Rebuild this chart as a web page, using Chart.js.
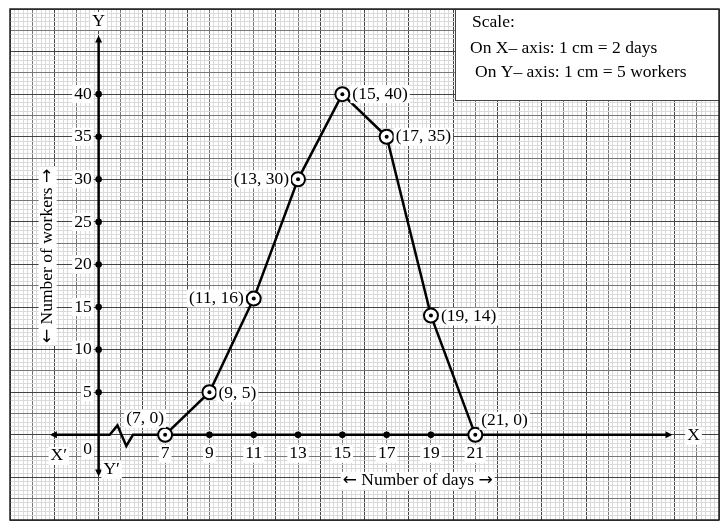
<!DOCTYPE html>
<html>
<head>
<meta charset="utf-8">
<script src="https://cdn.jsdelivr.net/npm/chart.js@4"></script>
<style>
  body { margin: 0; background: #fff; }
  #wrap { width: 728px; height: 529px; }
</style>
</head>
<body>
<div id="wrap"><canvas id="graph"></canvas></div>
<script>
const days = [7, 9, 11, 13, 15, 17, 19, 21];
const workers = [0, 5, 16, 30, 40, 35, 14, 0];
const xTickLabels = [7, 9, 11, 13, 15, 17, 19, 21];
const yTickLabels = [5, 10, 15, 20, 25, 30, 35, 40];
const scaleLines = ['Scale:', 'On X\u2013 axis: 1 cm = 2 days', 'On Y\u2013 axis: 1 cm = 5 workers'];

const points = days.map((d, i) => ({ x: d, y: workers[i] }));
const FONT = '17.5px "Liberation Serif"';
const ARROW_FONT = '17px "DejaVu Sans"';

// where the Y axis crosses the X axis (graph paper position)
const AXIS_X = 4;

function isMult(v, step) {
    const q = v / step;
    return Math.abs(q - Math.round(q)) < 1e-6;
}

function textBox(ctx, txt, x, y, align) {
    ctx.textAlign = align;
    const w = ctx.measureText(txt).width;
    let left = x;
    if (align === 'center') left = x - w / 2;
    if (align === 'right') left = x - w;
    ctx.fillStyle = '#fff';
    ctx.fillRect(left - 2, y - 9, w + 4, 18);
    ctx.fillStyle = '#000';
    ctx.fillText(txt, x, y);
}

// "← title →" centred at (x, y), arrows in a font with bigger arrow glyphs
function arrowTitle(ctx, txt, x, y) {
    ctx.font = ARROW_FONT;
    const wa = ctx.measureText('\u2190').width;
    ctx.font = FONT;
    const mid = ' ' + txt + ' ';
    const wm = ctx.measureText(mid).width;
    const total = wa * 2 + wm;
    let left = x - total / 2;
    ctx.fillStyle = '#fff';
    ctx.fillRect(left - 2, y - 9, total + 4, 18);
    ctx.fillStyle = '#000';
    ctx.textAlign = 'left';
    ctx.font = ARROW_FONT;
    ctx.fillText('\u2190', left, y);
    ctx.font = FONT;
    ctx.fillText(mid, left + wa, y);
    ctx.font = ARROW_FONT;
    ctx.fillText('\u2192', left + wa + wm, y);
    ctx.font = FONT;
}

function arrow(ctx, x, y, dir) {
    const s = 7;
    ctx.beginPath();
    if (dir === 'right') { ctx.moveTo(x, y); ctx.lineTo(x - s, y - 3.5); ctx.lineTo(x - s, y + 3.5); }
    if (dir === 'left') { ctx.moveTo(x, y); ctx.lineTo(x + s, y - 3.5); ctx.lineTo(x + s, y + 3.5); }
    if (dir === 'up') { ctx.moveTo(x, y); ctx.lineTo(x - 3.5, y + s); ctx.lineTo(x + 3.5, y + s); }
    if (dir === 'down') { ctx.moveTo(x, y); ctx.lineTo(x - 3.5, y - s); ctx.lineTo(x + 3.5, y - s); }
    ctx.closePath();
    ctx.fill();
}

const axesPlugin = {
    id: 'axes',
    beforeDatasetsDraw(chart) {
        const ctx = chart.ctx;
        const xs = chart.scales.x, ys = chart.scales.y;
        const X = v => xs.getPixelForValue(v);
        const Y = v => ys.getPixelForValue(v);
        const a = chart.chartArea;
        ctx.save();

        // scale box
        const bx = 455, by = a.top, bh = 91;
        ctx.fillStyle = '#fff';
        ctx.fillRect(bx, by, a.right - bx, bh);
        ctx.strokeStyle = '#444';
        ctx.lineWidth = 1;
        ctx.strokeRect(bx + 0.5, by + 0.5, a.right - bx, bh);
        ctx.fillStyle = '#000';
        ctx.font = FONT;
        ctx.textBaseline = 'middle';
        ctx.textAlign = 'left';
        ctx.fillText(scaleLines[0], 472, 22);
        ctx.fillText(scaleLines[1], 470, 48);
        ctx.fillText(scaleLines[2], 475, 72);

        // frame
        ctx.strokeStyle = '#222';
        ctx.lineWidth = 1.5;
        ctx.strokeRect(a.left, a.top, a.right - a.left, a.bottom - a.top);

        // x axis with break
        const y0 = Y(0);
        ctx.strokeStyle = '#000';
        ctx.fillStyle = '#000';
        ctx.lineWidth = 2.5;
        ctx.beginPath();
        ctx.moveTo(X(1.9), y0);
        ctx.lineTo(X(4.5), y0);
        ctx.lineTo(X(4.85), Y(1.1));
        ctx.lineTo(X(5.25), Y(-1.3));
        ctx.lineTo(X(5.55), y0);
        ctx.lineTo(X(29.7), y0);
        ctx.stroke();
        arrow(ctx, X(1.8), y0, 'left');
        arrow(ctx, X(29.9), y0, 'right');

        // y axis
        const x0 = X(AXIS_X);
        ctx.beginPath();
        ctx.moveTo(x0, Y(-4.4));
        ctx.lineTo(x0, Y(46.4));
        ctx.stroke();
        arrow(ctx, x0, Y(46.9), 'up');
        arrow(ctx, x0, Y(-4.9), 'down');

        // tick dots
        yTickLabels.forEach(v => {
            ctx.beginPath(); ctx.arc(x0, Y(v), 3.3, 0, Math.PI * 2); ctx.fill();
        });
        xTickLabels.forEach(v => {
            ctx.beginPath(); ctx.arc(X(v), y0, 3.3, 0, Math.PI * 2); ctx.fill();
        });

        // tick labels
        ctx.font = FONT;
        yTickLabels.forEach(v => textBox(ctx, String(v), x0 - 7, Y(v), 'right'));
        xTickLabels.forEach(v => textBox(ctx, String(v), X(v), y0 + 19, 'center'));

        textBox(ctx, '0', x0 - 11, y0 + 15, 'center');
        textBox(ctx, 'X\u2032', X(2.2), y0 + 21, 'center');
        textBox(ctx, 'Y\u2032', x0 + 13, y0 + 35, 'center');
        textBox(ctx, 'X', X(30.85), y0 + 1, 'center');
        textBox(ctx, 'Y', x0, Y(48.6), 'center');

        // axis titles
        arrowTitle(ctx, 'Number of days', X(18.4), y0 + 46);
        ctx.save();
        ctx.translate(X(1.7), Y(21));
        ctx.rotate(-Math.PI / 2);
        arrowTitle(ctx, 'Number of workers', 0, 0);
        ctx.restore();

        ctx.restore();
    },
    afterDatasetsDraw(chart) {
        const ctx = chart.ctx;
        const meta = chart.getDatasetMeta(0);
        // label placement per point: [dx, dy, align]
        const place = [
            [-20, -16, 'center'], [9, 1, 'left'], [-10, 0, 'right'], [-9, 0, 'right'],
            [10, 0, 'left'], [9, 0, 'left'], [10, 1, 'left'], [6, -14, 'left']
        ];
        ctx.save();
        ctx.font = FONT;
        ctx.textBaseline = 'middle';
        meta.data.forEach((pt, i) => {
            const p = place[i];
            const txt = '(' + days[i] + ', ' + workers[i] + ')';
            textBox(ctx, txt, pt.x + p[0], pt.y + p[1], p[2]);
        });
        ctx.restore();
    }
};

const config = {
    type: 'line',
    data: {
        datasets: [{
            data: points,
            order: 2,
            borderColor: '#000',
            borderWidth: 2.5,
            tension: 0,
            pointRadius: 7,
            pointBackgroundColor: '#fff',
            pointBorderColor: '#000',
            pointBorderWidth: 2,
        }, {
            data: points,
            order: 1,
            showLine: false,
            pointRadius: 2,
            pointBackgroundColor: '#000',
            pointBorderColor: '#000',
            pointBorderWidth: 0,
        }]
    },
    options: {
        responsive: true,
        maintainAspectRatio: false,
        animation: false,
        layout: { padding: { left: 10, right: 8, top: 6, bottom: 6 } },
        plugins: { legend: { display: false }, tooltip: { enabled: false } },
        scales: {
            x: {
                type: 'linear',
                min: 0,
                max: 32,
                ticks: { display: false, stepSize: 0.2, autoSkip: false },
                grid: {
                    drawTicks: false,
                    color: c => isMult(c.tick.value, 1) ? (isMult(c.tick.value, 2) ? '#444' : '#777') : '#dadada',
                    lineWidth: 1,
                },
                border: { display: false },
            },
            y: {
                min: -10,
                max: 50,
                ticks: { display: false, stepSize: 0.5, autoSkip: false },
                grid: {
                    drawTicks: false,
                    color: c => isMult(c.tick.value, 2.5) ? (isMult(c.tick.value, 5) ? '#444' : '#777') : '#dadada',
                    lineWidth: 1,
                },
                border: { display: false },
            }
        }
    },
    plugins: [axesPlugin]
};

const myChart = new Chart(document.getElementById('graph'), config);
</script>
</body>
</html>
